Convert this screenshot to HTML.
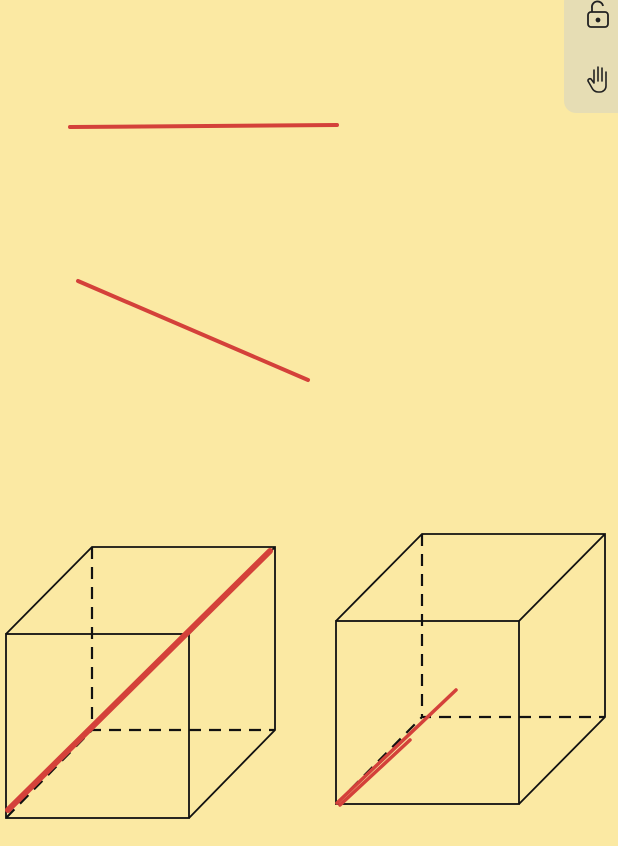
<!DOCTYPE html>
<html><head><style>
html,body{margin:0;padding:0;width:618px;height:846px;overflow:hidden;background:#fbe9a3;font-family:"Liberation Sans",sans-serif}
#tb{position:absolute;left:564px;top:-10px;width:70px;height:123px;background:#e6ddb4;border-radius:12px}
</style></head><body>
<div id="tb"></div>
<svg width="618" height="846" style="position:absolute;left:0;top:0">
<g fill="none" stroke="#222" stroke-width="1.8">
<rect x="588" y="12" width="20" height="15" rx="3"/>
<path d="M592 12 v-4 a5.5 5.5 0 0 1 11 -2"/>
<circle cx="598" cy="20" r="1.5" fill="#222"/>
</g>
<g fill="none" stroke="#222" stroke-width="1.6" stroke-linecap="round" stroke-linejoin="round">
<path d="M594 83 v-13 M598 81 v-14 M602 81 v-13 M606 82 v-10 M594 83 l-3 -4 a2 2 0 0 0 -3 2 l4 7 a7 7 0 0 0 6 4 h2 a6 6 0 0 0 6 -6 v-14"/>
</g>
<g stroke="#d4413a" stroke-width="4" stroke-linecap="round" fill="none">
<path d="M70 127 L337 125"/>
<path d="M78 281 L308 380"/>
</g>
<g stroke="#111" stroke-width="1.8" fill="none">
<rect x="6" y="634" width="183" height="184"/>
<path d="M6 634 L92 547 H275 V730 L189 818 M189 634 L275 547"/>
<path d="M92 547 V730 H275 M6 818 L92 730" stroke-dasharray="12 8" stroke-width="2.2"/>
</g>
<path d="M8 810 L270 551" stroke="#d4413a" stroke-width="6" stroke-linecap="round"/>
<g stroke="#111" stroke-width="1.8" fill="none">
<rect x="336" y="621" width="183" height="183"/>
<path d="M336 621 L422 534 H605 V717 L519 804 M519 621 L605 534"/>
<path d="M422 534 V717 H605 M336 804 L422 717" stroke-dasharray="12 8" stroke-width="2.2"/>
</g>
<path d="M337 803 L456 690 M340 805 L410 740" stroke="#d4413a" stroke-width="3.5" stroke-linecap="round"/>
</svg>
</body></html>
